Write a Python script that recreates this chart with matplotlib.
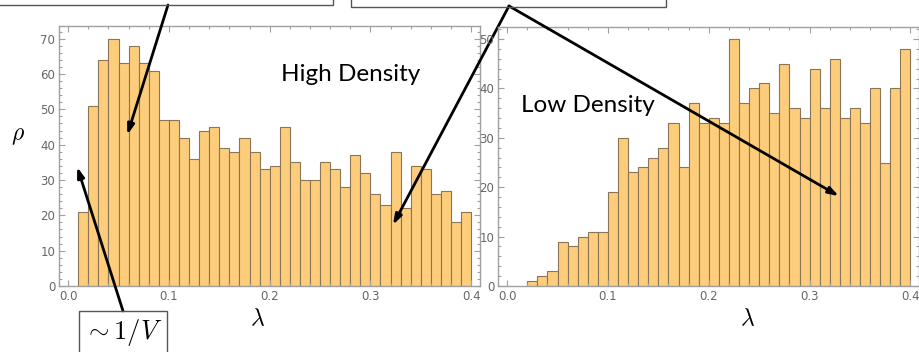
import numpy as np
import matplotlib
matplotlib.use('Agg')
from matplotlib import pyplot as plt
from matplotlib.patches import Rectangle
from matplotlib.ticker import MultipleLocator

plt.rcParams['mathtext.fontset'] = 'cm'

largura = 0.01  # largura dos bins em lambda

# histograma de alta densidade: bins começando em 0.01
alta_inicio = 0.01
alta = [21, 51, 64, 70, 63, 68, 63, 61, 47, 47, 42, 36, 44, 45, 39, 38, 42, 38,
        33, 34, 45, 35, 30, 30, 35, 33, 28, 37, 32, 26, 23, 38, 22, 34, 33, 26,
        27, 18, 21]

# histograma de baixa densidade: bins começando em 0.02
baixa_inicio = 0.02
baixa = [1, 2, 3, 9, 8, 10, 11, 11, 19, 30, 23, 24, 26, 28, 33, 24, 37, 33, 34,
         33, 50, 37, 40, 41, 35, 45, 36, 34, 44, 36, 46, 34, 36, 33, 40, 25, 40, 48]

xticks = [0.0, 0.1, 0.2, 0.3, 0.4]
xticklabels = ['0.0', '0.1', '0.2', '0.3', '0.4']

cor_barra = '#fecd7b'
cor_borda = '#8a7656'
cor_frame = '#a0a0a0'
cor_texto = '#666666'

W, H = 920, 352
fig = plt.figure(figsize=(W / 100, H / 100), dpi=100)


def px(x, y):
    # pixel (origem no topo) -> fração da figura
    return x / W, 1 - y / H


def painel(pos, inicio, valores, ymax, yticks):
    ax = fig.add_axes(pos)
    esquerdas = inicio + largura * np.arange(len(valores))
    ax.bar(esquerdas, valores, width=largura, align='edge', color=cor_barra,
           edgecolor=cor_borda, linewidth=0.8)
    ax.set_xlim(-0.0088, 0.4088)
    ax.set_ylim(0, ymax)
    ax.set_xticks(xticks)
    ax.set_xticklabels(xticklabels)
    ax.set_yticks(yticks)
    ax.xaxis.set_minor_locator(MultipleLocator(0.02))
    ax.yaxis.set_minor_locator(MultipleLocator(2))
    ax.tick_params(which='both', direction='in', top=True, right=True,
                   color=cor_frame, labelcolor=cor_texto, labelsize=8.5,
                   width=0.8)
    ax.tick_params(which='major', length=4.5, pad=3)
    ax.tick_params(which='minor', length=2.5)
    for s in ax.spines.values():
        s.set_color(cor_frame)
        s.set_linewidth(1.0)
    return ax


ax1 = painel([59.3 / W, 66 / H, 420.7 / W, 260 / H], alta_inicio, alta, 73.6,
             range(0, 71, 10))
ax2 = painel([498.3 / W, 66 / H, 421 / W, 259.3 / H], baixa_inicio, baixa, 52.5,
             range(0, 51, 10))

ax1.text(0.28, 60, 'High Density', fontsize=17.5, family='Lato',
         ha='center', va='center')
ax2.text(0.08, 36.5, 'Low Density', fontsize=17.5, family='Lato',
         ha='center', va='center')

# rótulos dos eixos
fig.text(*px(18, 135), r'$\rho$', fontsize=17, ha='center', va='center')
fig.text(*px(258, 318), r'$\lambda$', fontsize=17, ha='center', va='center')
fig.text(*px(748, 318), r'$\lambda$', fontsize=17, ha='center', va='center')

# caixas de anotação (cortadas no topo/fundo)
def caixa(x0, y0, x1, y1):
    a = px(x0, y1)
    b = px(x1, y0)
    fig.add_artist(Rectangle(a, b[0] - a[0], b[1] - a[1], transform=fig.transFigure,
                             fill=False, edgecolor='#555555', linewidth=1.0,
                             clip_on=False))

caixa(-5, -30, 333, 5)
caixa(350.7, -30, 665.7, 6.7)
caixa(79, 310.7, 166.7, 380)
fig.text(*px(123, 332), r'$\sim 1/V$', fontsize=19, ha='center', va='center')

seta = dict(arrowstyle='-|>,head_length=0.6,head_width=0.2', color='black',
            lw=2, shrinkA=0, shrinkB=0)

ax1.annotate('', xy=(0.0587, 42.8), xycoords='data',
             xytext=px(168, 5), textcoords='figure fraction', arrowprops=seta)
ax1.annotate('', xy=(0.3224, 17.3), xycoords='data',
             xytext=px(509, 6), textcoords='figure fraction', arrowprops=seta)
ax2.annotate('', xy=(0.329, 18.2), xycoords='data',
             xytext=px(509, 6), textcoords='figure fraction', arrowprops=seta,
             annotation_clip=False)
ax1.annotate('', xy=(0.009, 33.7), xycoords='data',
             xytext=px(123, 311), textcoords='figure fraction', arrowprops=seta)

fig.savefig('out.png', dpi=100)
